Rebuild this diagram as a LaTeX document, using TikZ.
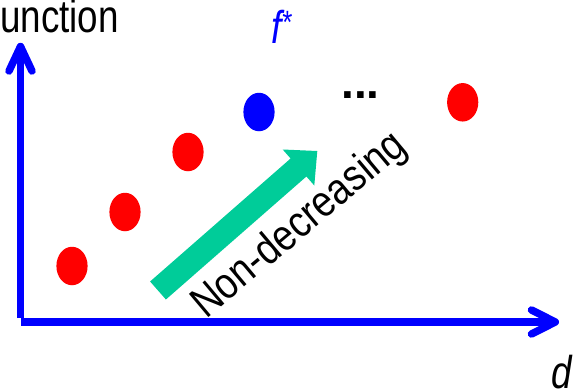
\documentclass[tikz,border=0pt]{standalone}
\usepackage{fontspec}
\setmainfont{Liberation Sans}
\usepackage{graphicx}
\usetikzlibrary{shapes.geometric}
\definecolor{axisblue}{RGB}{0,0,255}
\definecolor{dotred}{RGB}{255,0,0}
\definecolor{arrowgreen}{RGB}{0,204,153}
\tikzset{
  axisline/.style={draw=axisblue, line width=7.5pt},
  axishead/.style={draw=axisblue, line width=7.5pt, line cap=round, line join=round},
  dotnode/.style={ellipse, minimum width=31.2pt, minimum height=38.5pt, inner sep=0pt, draw=none},
  lbl/.style={inner sep=0pt, font=\fontsize{46}{50}\selectfont},
}
\newcommand{\squash}[1]{\scalebox{0.8}[1]{#1}}
\begin{document}
\begin{tikzpicture}[x=1pt, y=-1pt]
\useasboundingbox (0,0) rectangle (573,391);
% axes
\coordinate (O1) at (20.5,318);
\coordinate (Ytip) at (20.5,46.5);
\coordinate (Yl) at (9,71);
\coordinate (Yr) at (32,71);
\coordinate (O2) at (21,322);
\coordinate (Xtip) at (555.3,322);
\coordinate (Xu) at (531.5,310);
\coordinate (Xd) at (531.5,334);
\draw[axisline] (O1) -- (Ytip);
\draw[axishead] (Yl) -- (Ytip) -- (Yr);
\draw[axisline] (O2) -- (Xtip);
\draw[axishead] (Xu) -- (Xtip) -- (Xd);
% dots
\node[dotnode, fill=dotred] (p1) at (72,266) {};
\node[dotnode, fill=dotred] (p2) at (125,212) {};
\node[dotnode, fill=dotred] (p3) at (188,152) {};
\node[dotnode, fill=axisblue] (p4) at (259,112) {};
\node[dotnode, fill=dotred] (p5) at (462.7,102.3) {};
% green arrow
\coordinate (g1) at (150.1,281.5);
\coordinate (g2) at (290.6,158.5);
\coordinate (g3) at (282.7,149.5);
\coordinate (g4) at (317.3,151.0);
\coordinate (g5) at (314.3,185.5);
\coordinate (g6) at (306.4,176.5);
\coordinate (g7) at (165.9,299.5);
\fill[arrowgreen] (g1) -- (g2) -- (g3) -- (g4) -- (g5) -- (g6) -- (g7) -- cycle;
% texts
\node[lbl, anchor=base east] (ylab) at (119,32) {\squash{unction}};
\node[lbl, anchor=base west, text=axisblue] (fstar) at (271,43) {\squash{\itshape f\textsuperscript{*}}};
\node[lbl, anchor=base] (dots) at (360.5,98) {\bfseries ...};
\node[lbl, anchor=base west] (xlab) at (551,388) {\squash{\itshape d}};
\node[inner sep=0pt, font=\fontsize{44}{48}\selectfont] (nd) at (300,226) {\rotatebox{40}{\scalebox{0.85}[1]{Non-decreasing}}};
\end{tikzpicture}
\end{document}
